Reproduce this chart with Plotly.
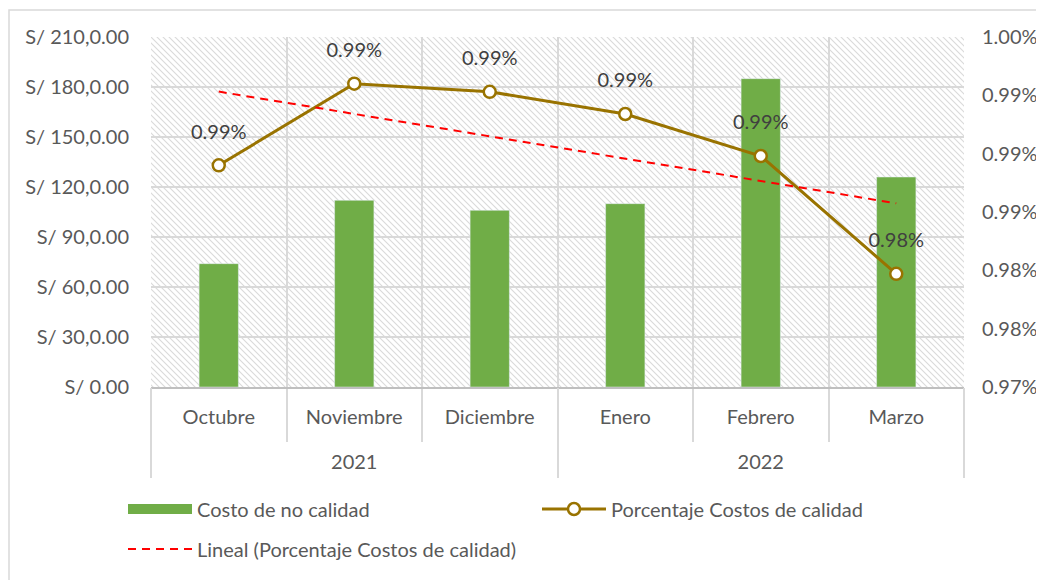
import base64
import numpy as np
import plotly.graph_objects as go

anios = ["2021", "2022"]
anio_pos = [1, 4]            # centro de cada grupo de meses
anio_limites = [-0.5, 2.5, 5.5]
meses = ["Octubre", "Noviembre", "Diciembre", "Enero", "Febrero", "Marzo"]
costo_no_calidad = [74, 112, 106, 110, 185, 126]
porcentaje_costos = [0.9890, 0.9960, 0.9953, 0.9934, 0.9898, 0.9797]
etiquetas_pct = ["0.99%", "0.99%", "0.99%", "0.99%", "0.99%", "0.98%"]

ticks_soles = [0, 30, 60, 90, 120, 150, 180, 210]
ticks_soles_txt = ["S/ 0.00", "S/ 30,0.00", "S/ 60,0.00", "S/ 90,0.00",
                   "S/ 120,0.00", "S/ 150,0.00", "S/ 180,0.00", "S/ 210,0.00"]
ticks_pct = [0.970, 0.975, 0.980, 0.985, 0.990, 0.995, 1.000]
ticks_pct_txt = ["0.97%", "0.98%", "0.98%", "0.99%", "0.99%", "0.99%", "1.00%"]

# tendencia lineal (como la de Excel)
idx = np.arange(len(porcentaje_costos))
pend, inter = np.polyfit(idx, porcentaje_costos, 1)
tendencia = pend * idx + inter

GRIS = "#595959"
LINEA = "#d9d9d9"
FUENTE = "Lato"
TAM = 20
# la página deja 8 px de margen alrededor del gráfico
W, H = 1036, 572
L, R, T, B = 143, 80, 29, 193
PW, PH = W - L - R, H - T - B

fig = go.Figure()

fig.add_trace(go.Bar(
    x=meses, y=costo_no_calidad, name="Costo de no calidad",
    marker_color="#70AD47", width=0.29, showlegend=False,
    xaxis="x", yaxis="y",
))
# entrada de leyenda con forma de barra ancha
fig.add_trace(go.Scatter(
    x=[None], y=[None], mode="lines", name="Costo de no calidad",
    line=dict(color="#70AD47", width=12), legend="legend",
    xaxis="x", yaxis="y",
))

fig.add_trace(go.Scatter(
    x=meses, y=porcentaje_costos, name="Porcentaje Costos de calidad",
    mode="lines+markers", line=dict(color="#997300", width=3),
    marker=dict(symbol="circle", size=12, color="white",
                line=dict(color="#997300", width=2.5)),
    legend="legend", xaxis="x", yaxis="y2",
))

# etiquetas de datos (separadas del marcador como en Excel)
fig.add_trace(go.Scatter(
    x=meses, y=porcentaje_costos, mode="markers+text", text=etiquetas_pct,
    textposition="top center", marker=dict(size=33, opacity=0),
    textfont=dict(size=TAM, color="#404040", family=FUENTE),
    showlegend=False, hoverinfo="skip", xaxis="x", yaxis="y2",
))

fig.add_trace(go.Scatter(
    x=idx, y=tendencia, name="Lineal (Porcentaje Costos de calidad)",
    mode="lines", line=dict(color="#FF0000", width=2, dash="8px,6px"),
    legend="legend2", xaxis="x3", yaxis="y2",
))

# fondo rayado del área de trazado
svg = (f'<svg xmlns="http://www.w3.org/2000/svg" width="{PW}" height="{PH}">'
       '<defs><pattern id="p" patternUnits="userSpaceOnUse" width="6" height="6">'
       '<rect width="6" height="6" fill="white"/>'
       '<path d="M-1,-1 L7,7 M-1,5 L1,7 M5,-1 L7,1" stroke="#dadada" stroke-width="1.1"/>'
       f'</pattern></defs><rect width="{PW}" height="{PH}" fill="url(#p)"/></svg>')
fig.add_layout_image(
    source="data:image/svg+xml;base64," + base64.b64encode(svg.encode()).decode(),
    xref="paper", yref="paper", x=0, y=1, sizex=1, sizey=1,
    sizing="stretch", layer="below",
)

# borde del gráfico
fig.add_shape(type="rect", xref="paper", yref="paper",
              x0=(1 - L) / PW, x1=(W + 20 - L) / PW,
              y0=-(H + 20 - PH - T) / PH, y1=(PH + T - 2) / PH,
              line=dict(color=LINEA, width=1.5), fillcolor="rgba(0,0,0,0)",
              layer="below")

fuente_ejes = dict(size=TAM, color=GRIS, family=FUENTE)

fig.update_layout(
    xaxis=dict(
        type="category", tickson="boundaries", showgrid=True, domain=[0, 1],
        gridcolor=LINEA, gridwidth=1.5, showline=True, linecolor="#bfbfbf",
        linewidth=1.5, ticks="outside", ticklen=53, tickcolor=LINEA,
        tickwidth=1.5, ticklabelstandoff=11, tickfont=fuente_ejes,
    ),
    # eje de años con separadores de grupo
    xaxis3=dict(
        overlaying="x", anchor="y", side="bottom", range=[-0.5, 5.5],
        tickvals=anio_pos, ticktext=anios, ticks="", showgrid=False,
        zeroline=False, showline=False, ticklabelstandoff=61,
        tickfont=fuente_ejes,
        minor=dict(tickmode="array", tickvals=anio_limites, ticks="outside",
                   ticklen=90, tickcolor=LINEA, tickwidth=1.5, showgrid=False),
    ),
    yaxis=dict(
        range=[0, 210], tickvals=ticks_soles, ticktext=ticks_soles_txt,
        gridcolor=LINEA, gridwidth=1.5, zeroline=False, domain=[0, 1],
        ticks="outside", ticklen=17, tickcolor="rgba(0,0,0,0)",
        tickfont=fuente_ejes,
    ),
    yaxis2=dict(
        overlaying="y", side="right", anchor="x",
        range=[0.970, 1.000], tickvals=ticks_pct, ticktext=ticks_pct_txt,
        showgrid=False, zeroline=False,
        ticks="outside", ticklen=13, tickcolor="rgba(0,0,0,0)",
        tickfont=fuente_ejes,
    ),
    width=W, height=H,
    margin=dict(l=L, r=R, t=T, b=B, autoexpand=False),
    paper_bgcolor="white", plot_bgcolor="rgba(0,0,0,0)",
    font=dict(family=FUENTE, color=GRIS, size=TAM),
    legend=dict(
        orientation="h", x=(115 - L) / PW, y=-(501 - PH - T) / PH,
        xanchor="left", yanchor="middle",
        entrywidth=335, entrywidthmode="pixels", itemwidth=64,
        font=fuente_ejes, traceorder="normal", bgcolor="rgba(0,0,0,0)",
    ),
    legend2=dict(
        orientation="h", x=(115 - L) / PW, y=-(541 - PH - T) / PH,
        xanchor="left", yanchor="middle", itemwidth=64,
        font=fuente_ejes, bgcolor="rgba(0,0,0,0)",
    ),
)

fig.write_html("out.html")
